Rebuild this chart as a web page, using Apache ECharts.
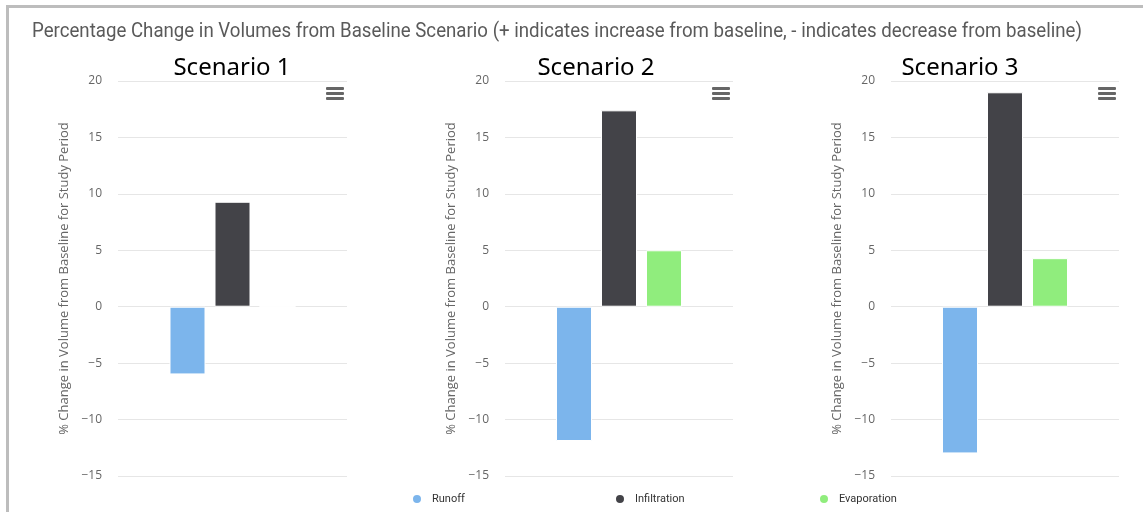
<!DOCTYPE html>
<html>
<head>
<meta charset="utf-8">
<script src="https://cdn.jsdelivr.net/npm/echarts@6/dist/echarts.min.js"></script>
<style>
  html, body { margin: 0; padding: 0; background: #fff; }
  #chart { width: 1143px; height: 512px; }
</style>
</head>
<body>
<div id="chart"></div>
<script>
// Percentage change in volumes for each scenario, by component
const scenarios = ['Scenario 1', 'Scenario 2', 'Scenario 3'];
const seriesNames = ['Runoff', 'Infiltration', 'Evaporation'];
const runoff = [-6.0, -11.9, -13.0];
const infiltration = [9.3, 17.4, 19.0];
const evaporation = [0, 5.0, 4.3];
const yMin = -15, yMax = 20, yStep = 5;

const titleText = 'Percentage Change in Volumes from Baseline Scenario (+ indicates increase from baseline, - indicates decrease from baseline)';
const axisName = '% Change in Volume from Baseline for Study Period';

const colors = ['#7cb5ec', '#434348', '#90ed7d'];
const values = [runoff, infiltration, evaporation];

// panel layout
const panels = [
  { left: 118, width: 229, label: 232 },
  { left: 505, width: 228, label: 596 },
  { left: 891, width: 228, label: 960 }
];
const gridTop = 81, gridHeight = 395;

const chart = echarts.init(document.getElementById('chart'), null, { renderer: 'canvas' });

// condensed look for the heading: squeeze Roboto to the target width
const measure = document.createElement('canvas').getContext('2d');
measure.font = '20px Roboto';
const titleScale = 1050 / measure.measureText(titleText).width;

const grids = [], xAxes = [], yAxes = [], series = [];
panels.forEach((p, i) => {
  grids.push({ left: p.left, top: gridTop, width: p.width, height: gridHeight });
  xAxes.push({
    gridIndex: i, type: 'category', data: [scenarios[i]],
    axisLine: { show: false }, axisTick: { show: false }, axisLabel: { show: false },
    splitLine: { show: false }
  });
  yAxes.push({
    gridIndex: i, type: 'value', min: yMin, max: yMax, interval: yStep,
    axisLine: { show: false }, axisTick: { show: false },
    axisLabel: {
      color: '#666', fontSize: 12, fontFamily: 'Open Sans', margin: 16,
      formatter: v => (v < 0 ? '\u2212' + Math.abs(v) : String(v))
    },
    splitLine: { lineStyle: { color: '#e6e6e6', width: 1 } },
    name: axisName, nameLocation: 'middle', nameGap: 47, nameRotate: 90,
    nameTextStyle: { color: '#666', fontSize: 13, fontFamily: 'Open Sans' }
  });
  seriesNames.forEach((name, k) => {
    series.push({
      name: name, type: 'bar', xAxisIndex: i, yAxisIndex: i,
      data: [values[k][i]],
      barWidth: 36, barGap: '25%',
      itemStyle: { color: colors[k], borderColor: '#fff', borderWidth: 1 },
      emphasis: { disabled: true }
    });
  });
});

// menu glyphs in the top-right corner of each panel
const menuIcons = panels.map(p => ({
  type: 'group', left: p.left + p.width - 21, top: 87,
  children: [0, 5, 10].map(dy => ({
    type: 'rect', shape: { x: 0, y: dy, width: 18, height: 3, r: 1 },
    style: { fill: '#666' }
  }))
}));

const legendX = [406, 609, 813];
const legends = seriesNames.map((name, k) => ({
  data: [name], left: legendX[k], top: 488,
  icon: 'circle', itemWidth: 10, itemHeight: 10, itemGap: 0,
  textStyle: { color: '#333', fontSize: 11, fontFamily: 'Roboto', padding: [0, 0, 0, 5] },
  selectedMode: false
}));

chart.setOption({
  backgroundColor: '#fff',
  animation: false,
  color: colors,
  grid: grids,
  xAxis: xAxes,
  yAxis: yAxes,
  legend: legends,
  series: series,
  graphic: [
    { type: 'rect', shape: { x: 7.5, y: 6.5, width: 1200, height: 600 },
      style: { fill: 'none', stroke: '#bdbdbd', lineWidth: 3 }, silent: true },
    { type: 'text', x: 32, y: 22, scaleX: titleScale,
      style: { text: titleText, fill: '#5a5a5a', font: '20px Roboto', textVerticalAlign: 'top' } },
    ...panels.map((p, i) => ({
      type: 'text', x: p.label, y: 68,
      style: { text: scenarios[i], fill: '#000', font: '24px "Noto Sans"', textAlign: 'center', textVerticalAlign: 'middle' }
    })),
    ...menuIcons
  ]
});
</script>
</body>
</html>
